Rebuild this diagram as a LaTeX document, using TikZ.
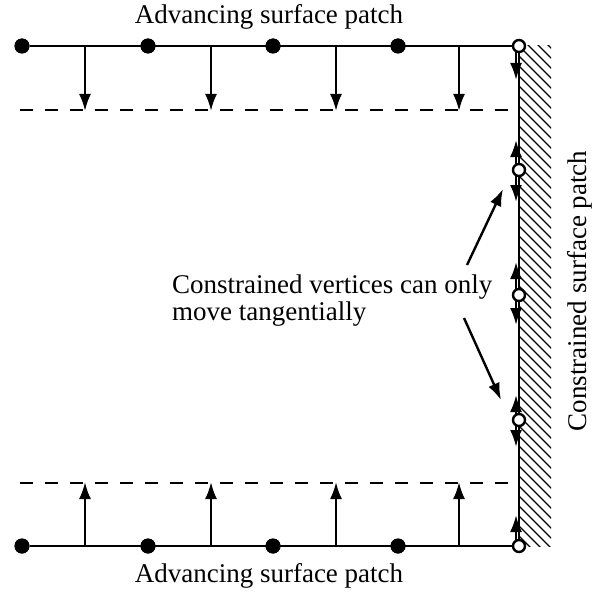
\documentclass[tikz,border=0pt]{standalone}
\usepackage{fontspec}
\setmainfont{Liberation Serif}
\usetikzlibrary{arrows.meta}
\begin{document}
\begin{tikzpicture}[x=1pt,y=-1pt,
  line/.style={line width=2.4pt},
  arr/.style={line width=2.4pt,-{Latex[length=17pt,width=12pt]}},
  dashline/.style={line width=2pt,dash pattern=on 13pt off 12pt},
  fdot/.style={circle,fill=black,inner sep=0pt,minimum size=15pt},
  odot/.style={circle,draw=black,fill=white,line width=2.4pt,inner sep=0pt,minimum size=12pt},
  lbl/.style={font=\fontsize{27}{28}\selectfont,inner sep=0pt}]
\useasboundingbox (0,0) rectangle (602,599);
% hatching
\begin{scope}
\clip (519,46) rectangle (551,546);
\foreach \yy in {6,16,...,556} \draw[line width=1.3pt] (519,\yy) -- (559,\yy+40);
\end{scope}
% constrained line
\coordinate (c0) at (519,46);
\coordinate (c1) at (519,170);
\coordinate (c2) at (519,295);
\coordinate (c3) at (519,420);
\coordinate (c4) at (519,546);
\draw[line] (c0) -- (c4);
% tangential arrows
\foreach \s/\e in {46/80,170/140,170/202,295/262,295/325,420/395,420/447,546/515}{
  \draw[arr] (516,\s) -- (516,\e);
}
% top patch
\node[fdot] (t1) at (22,46) {};
\node[fdot] (t2) at (148,46) {};
\node[fdot] (t3) at (273,46) {};
\node[fdot] (t4) at (398,46) {};
\draw[line] (t1) -- (c0);
\draw[dashline] (20,110) -- (519,110);
\foreach \xx in {85,211,336,459} \draw[arr] (\xx,46) -- (\xx,111);
% bottom patch
\node[fdot] (b1) at (22,546) {};
\node[fdot] (b2) at (148,546) {};
\node[fdot] (b3) at (273,546) {};
\node[fdot] (b4) at (398,546) {};
\draw[line] (b1) -- (c4);
\draw[dashline] (20,483) -- (519,483);
\foreach \xx in {85,211,336,459} \draw[arr] (\xx,546) -- (\xx,482);
% redraw filled dots on top
\foreach \xx in {22,148,273,398}{\fill (\xx,46) circle (7.5pt); \fill (\xx,546) circle (7.5pt);}
% open circles
\foreach \c in {c0,c1,c2,c3,c4} \node[odot] at (\c) {};
% labels
\node[lbl,anchor=base] (top) at (269,24) {Advancing surface patch};
\node[lbl,anchor=base] (bot) at (269,582) {Advancing surface patch};
\node[lbl,rotate=90] (side) at (580,291) {Constrained surface patch};
\node[lbl,anchor=base west] (txt1) at (172,293) {Constrained vertices can only};
\node[lbl,anchor=base west] (txt2) at (172,320) {move tangentially};
\coordinate (p1s) at (467,265);
\coordinate (p1e) at (503,189);
\coordinate (p2s) at (464,318);
\coordinate (p2e) at (501,400);
\draw[arr] (p1s) -- (p1e);
\draw[arr] (p2s) -- (p2e);
\end{tikzpicture}
\end{document}
